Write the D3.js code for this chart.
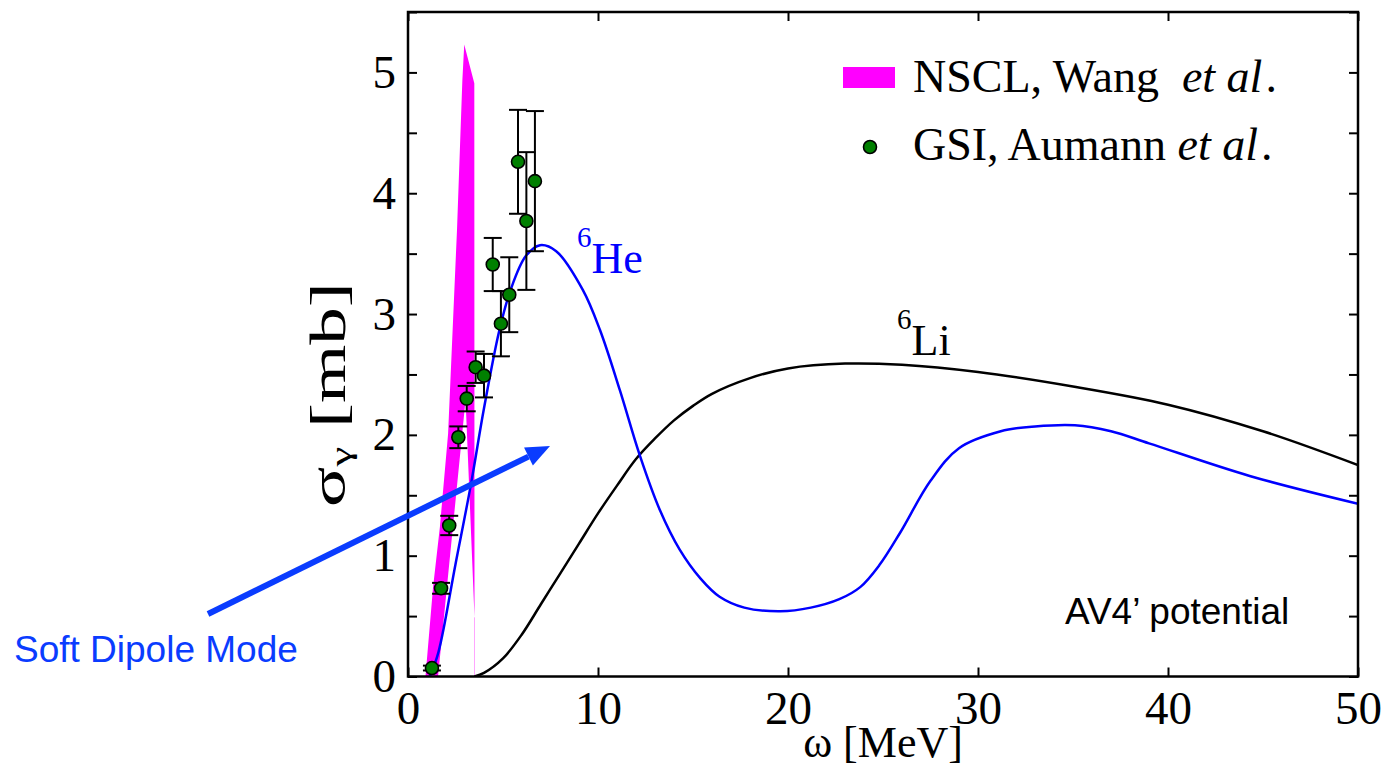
<!DOCTYPE html>
<html>
<head>
<meta charset="utf-8">
<script src="https://cdn.jsdelivr.net/npm/d3@7"></script>
<style>
  html, body { margin: 0; padding: 0; background: #fff; }
  svg { display: block; }
</style>
</head>
<body>
<svg id="chart" width="1385" height="769"></svg>
<script>
// Photo-absorption cross sections, omega in MeV, sigma in mb
const omegaHe = [1.15, 1.6, 2.5, 3.3, 4.0, 4.8, 5.4, 6.2, 6.95, 7.8, 9.2, 10.1, 11.15, 12.2, 13.25, 14.3, 15.4, 16.4, 17.7, 19.6, 21.2, 22.7, 23.8, 24.8, 25.9, 27.5, 29.0, 31.2, 33.0, 35.1, 37.0, 39.0, 44.3, 50];
const sigmaHe = [0, 0.2, 0.93, 1.58, 2.22, 2.86, 3.2, 3.48, 3.57, 3.52, 3.2, 2.87, 2.37, 1.83, 1.38, 1.05, 0.81, 0.66, 0.57, 0.54, 0.57, 0.64, 0.74, 0.92, 1.19, 1.62, 1.89, 2.03, 2.07, 2.08, 2.03, 1.93, 1.66, 1.43];

const omegaLi = [3.5, 4, 5, 6, 7, 8, 9, 10, 11, 12, 13, 14, 15, 16, 18, 20, 23, 26, 30, 35, 40, 45, 50];
const sigmaLi = [0, 0.03, 0.15, 0.35, 0.6, 0.85, 1.1, 1.35, 1.58, 1.8, 1.97, 2.12, 2.24, 2.34, 2.47, 2.55, 2.59, 2.58, 2.52, 2.40, 2.25, 2.03, 1.75];

// GSI data points with symmetric errors
const omegaGSI = [1.26, 1.74, 2.17, 2.65, 3.09, 3.56, 4.00, 4.46, 4.89, 5.33, 5.79, 6.23, 6.68];
const sigmaGSI = [0.07, 0.73, 1.25, 1.98, 2.30, 2.56, 2.49, 3.41, 2.92, 3.16, 4.26, 3.77, 4.10];
const errGSI   = [0.02, 0.045, 0.08, 0.09, 0.105, 0.13, 0.18, 0.22, 0.27, 0.31, 0.43, 0.57, 0.58];

// NSCL band outline
const omegaNSCL = [0.92, 1.32, 1.68, 2.11, 2.58, 2.86, 2.96, 3.49, 3.50, 3.03, 1.58];
const sigmaNSCL = [0.0, 0.74, 1.24, 2.01, 3.70, 4.93, 5.23, 4.91, 0.49, 2.29, 0.0];

const xTicks = [0, 10, 20, 30, 40, 50];
const yTickLabels = [0, 1, 2, 3, 4, 5];

const svg = d3.select("#chart");
const L = 408, R = 1358, T = 12, B = 676.5;
const x = d3.scaleLinear().domain([0, 50]).range([L, R]);
const y = d3.scaleLinear().domain([0, 5.5]).range([B, T]);

const serif = "'Liberation Serif', 'Times New Roman', serif";
const sans = "'Liberation Sans', Arial, sans-serif";
const blueText = "#0a3cff";

const plot = svg.append("g");
svg.append("clipPath").attr("id", "clip")
  .append("rect").attr("x", L).attr("y", T).attr("width", R - L).attr("height", B - T);

// NSCL band
const nsclPts = omegaNSCL.map((o, i) => [x(o), y(sigmaNSCL[i])]);
plot.append("path")
  .attr("d", d3.line()(nsclPts) + "Z")
  .attr("fill", "#ff00ff").attr("stroke", "none");
plot.append("line")
  .attr("x1", x(3.5)).attr("x2", x(3.5))
  .attr("y1", y(0)).attr("y2", y(0.49))
  .attr("stroke", "#ff00ff").attr("stroke-opacity", 0.35).attr("stroke-width", 1);

// Theory curves
const curve = d3.line().x(d => x(d[0])).y(d => y(d[1])).curve(d3.curveCatmullRom.alpha(0.5));
plot.append("path")
  .attr("d", curve(omegaLi.map((o, i) => [o, sigmaLi[i]])))
  .attr("fill", "none").attr("stroke", "#000").attr("stroke-width", 2.5)
  .attr("clip-path", "url(#clip)");
plot.append("path")
  .attr("d", curve(omegaHe.map((o, i) => [o, sigmaHe[i]])))
  .attr("fill", "none").attr("stroke", "#0000ff").attr("stroke-width", 2.5)
  .attr("clip-path", "url(#clip)");

// GSI error bars and points
const gsi = omegaGSI.map((o, i) => ({ o, s: sigmaGSI[i], e: errGSI[i] }));
const eb = plot.append("g").attr("stroke", "#000").attr("stroke-width", 2);
gsi.forEach(d => {
  eb.append("line").attr("x1", x(d.o)).attr("x2", x(d.o))
    .attr("y1", y(d.s - d.e)).attr("y2", y(d.s + d.e));
  [d.s - d.e, d.s + d.e].forEach(v => {
    eb.append("line").attr("x1", x(d.o) - 9).attr("x2", x(d.o) + 9)
      .attr("y1", y(v)).attr("y2", y(v));
  });
});
plot.append("g").selectAll("circle").data(gsi).join("circle")
  .attr("cx", d => x(d.o)).attr("cy", d => y(d.s)).attr("r", 6.5)
  .attr("fill", "#008000").attr("stroke", "#000").attr("stroke-width", 1.6);

// Frame
svg.append("rect").attr("x", L).attr("y", T).attr("width", R - L).attr("height", B - T)
  .attr("fill", "none").attr("stroke", "#000").attr("stroke-width", 2.5);

// Axes with inward ticks, mirrored on top and right
const yMinor = d3.range(0, 5.51, 0.5);
const axB = d3.axisBottom(x).tickValues(xTicks).tickSize(-9).tickPadding(14).tickFormat(d3.format("d"));
const axT = d3.axisTop(x).tickValues(xTicks).tickSize(-9).tickFormat("");
const axL = d3.axisLeft(y).tickValues(yMinor).tickSize(-9).tickPadding(12)
  .tickFormat(d => yTickLabels.includes(d) ? d : "");
const axR = d3.axisRight(y).tickValues(yMinor).tickSize(-9).tickFormat("");

function style(g) {
  g.select(".domain").remove();
  g.selectAll(".tick line").attr("stroke", "#000").attr("stroke-width", 2);
  g.selectAll(".tick text").attr("font-family", serif).attr("font-size", 47).attr("fill", "#000");
}
svg.append("g").attr("transform", `translate(0,${B})`).call(axB).call(style)
  .selectAll(".tick text").attr("dy", "0.71em");
svg.append("g").attr("transform", `translate(0,${T})`).call(axT).call(style);
svg.append("g").attr("transform", `translate(${L},0)`).call(axL).call(style);
svg.append("g").attr("transform", `translate(${R},0)`).call(axR).call(style);

// Axis titles
svg.append("text").attr("x", x(25)).attr("y", 757).attr("text-anchor", "middle")
  .attr("font-family", serif).attr("font-size", 44).text("ω [MeV]");
const yt = svg.append("text").attr("transform", "translate(345,507) rotate(-90) scale(1.5,1)")
  .attr("text-anchor", "start").attr("font-family", serif).attr("font-size", 50);
yt.append("tspan").text("σ");
yt.append("tspan").attr("font-size", 30).attr("dy", 6).text("γ");
yt.append("tspan").attr("dy", -6).text(" [mb]");

// Legend
svg.append("rect").attr("x", 843).attr("y", 67).attr("width", 52).attr("height", 21).attr("fill", "#ff00ff");
svg.append("circle").attr("cx", 870).attr("cy", 147).attr("r", 6.5)
  .attr("fill", "#008000").attr("stroke", "#000").attr("stroke-width", 1.6);
const lg1 = svg.append("text").attr("x", 913).attr("y", 92).attr("font-family", serif).attr("font-size", 46);
lg1.append("tspan").text("NSCL, Wang\u00a0\u00a0");
lg1.append("tspan").attr("font-style", "italic").text("et al");
lg1.append("tspan").attr("dx", 3).text(".");
const lg2 = svg.append("text").attr("x", 913).attr("y", 160).attr("font-family", serif).attr("font-size", 46);
lg2.append("tspan").text("GSI, Aumann ");
lg2.append("tspan").attr("font-style", "italic").text("et al");
lg2.append("tspan").attr("dx", 3).text(".");

// Curve labels
const he = svg.append("text").attr("x", 577).attr("y", 273).attr("font-family", serif).attr("font-size", 44).attr("fill", "#0000ff");
he.append("tspan").attr("font-size", 29).attr("dy", -26).text("6");
he.append("tspan").attr("dy", 26).text("He");
const li = svg.append("text").attr("x", 897).attr("y", 355).attr("font-family", serif).attr("font-size", 44).attr("fill", "#000");
li.append("tspan").attr("font-size", 29).attr("dy", -26).text("6");
li.append("tspan").attr("dy", 26).text("Li");

svg.append("text").attr("x", 1065).attr("y", 624).attr("font-family", sans).attr("font-size", 37)
  .text("AV4\u2019 potential");

// Soft dipole mode annotation
const ax0 = [208, 614], ax1 = [550, 446];
const ang = Math.atan2(ax1[1] - ax0[1], ax1[0] - ax0[0]);
const hl = 24, hw = 10;
const base = [ax1[0] - hl * Math.cos(ang), ax1[1] - hl * Math.sin(ang)];
svg.append("line").attr("x1", ax0[0]).attr("y1", ax0[1]).attr("x2", base[0]).attr("y2", base[1])
  .attr("stroke", blueText).attr("stroke-width", 6);
svg.append("path").attr("d", d3.line()([
  ax1,
  [base[0] + hw * Math.sin(ang), base[1] - hw * Math.cos(ang)],
  [base[0] - hw * Math.sin(ang), base[1] + hw * Math.cos(ang)]
]) + "Z").attr("fill", blueText);
svg.append("text").attr("x", 14).attr("y", 662).attr("font-family", sans).attr("font-size", 37)
  .attr("fill", blueText).text("Soft Dipole Mode");
</script>
</body>
</html>
